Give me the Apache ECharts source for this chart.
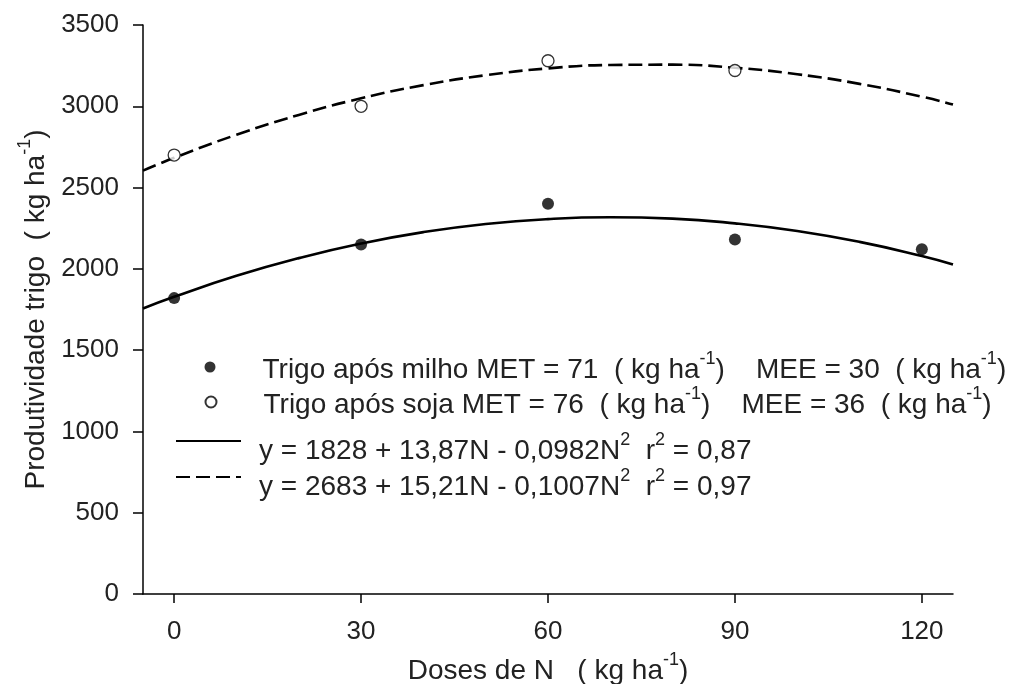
<!DOCTYPE html>
<html>
<head>
<meta charset="utf-8">
<script src="https://cdn.jsdelivr.net/npm/echarts@6/dist/echarts.min.js"></script>
<style>
html,body{margin:0;padding:0;background:#fff;}
#chart{width:1010px;height:684px;}
</style>
</head>
<body>
<div id="chart"></div>
<script>
// ---- data ----
const doses = [0, 30, 60, 90, 120];
const milhoObs = [1820, 2150, 2400, 2180, 2120];
const sojaDoses = [0, 30, 60, 90];
const sojaObs = [2700, 3000, 3280, 3220];
const curveDoses = [-5, 0, 10, 20, 30, 40, 50, 60, 70, 80, 90, 100, 110, 120, 125];
const curveMilho = [1756, 1828, 1957, 2066, 2156, 2226, 2276, 2306, 2317, 2309, 2280, 2233, 2166, 2079, 2027];
const curveSoja = [2604, 2683, 2825, 2947, 3049, 3130, 3191, 3233, 3254, 3256, 3237, 3197, 3138, 3059, 3011];
const xTickValues = [0, 30, 60, 90, 120];
const yTickValues = [0, 500, 1000, 1500, 2000, 2500, 3000, 3500];

const legendLabels = {
  milho: ['Trigo após milho MET = 71  ( kg ha', '-1', ')    MEE = 30  ( kg ha', '-1', ')'],
  soja: ['Trigo após soja MET = 76  ( kg ha', '-1', ')    MEE = 36  ( kg ha', '-1', ')'],
  eqMilho: ['y = 1828 + 13,87N - 0,0982N', '2', '  r', '2', ' = 0,87'],
  eqSoja: ['y = 2683 + 15,21N - 0,1007N', '2', '  r', '2', ' = 0,97']
};

const FONT = '"Liberation Sans", Arial, sans-serif';
const TXT = '#222';
const FS = 28;

function pairs(xs, ys) { return xs.map((x, i) => [x, ys[i]]); }

function richLabel(parts, firstStyle) {
  return parts.map((p, i) => '{' + (i === 0 ? firstStyle : (i % 2 === 1 ? 's' : 't')) + '|' + p + '}').join('');
}
const richStyles = {
  t: { fontSize: FS, fontFamily: FONT, color: TXT, lineHeight: 34, verticalAlign: 'bottom' },
  a: { fontSize: FS, fontFamily: FONT, color: TXT, lineHeight: 34, verticalAlign: 'bottom', padding: [0, 0, 0, 21] },
  b: { fontSize: FS, fontFamily: FONT, color: TXT, lineHeight: 34, verticalAlign: 'bottom', padding: [0, 0, 0, 13] },
  s: { fontSize: 18, fontFamily: FONT, color: TXT, lineHeight: 34, verticalAlign: 'top' }
};

function legendFor(name, left, top, width, isLine) {
  const lg = {
    data: [name],
    left: left, top: top,
    padding: 0,
    orient: 'vertical',
    itemWidth: width, itemHeight: 11,
    selectedMode: false,
    formatter: n => richLabel(legendLabels[n], isLine ? 'b' : 'a'),
    textStyle: { rich: richStyles }
  };
  if (isLine) {
    lg.itemStyle = { color: 'rgba(0,0,0,0)', borderWidth: 0 };
    lg.textStyle.padding = [14, 0, 0, 0];
  }
  return lg;
}

const chart = echarts.init(document.getElementById('chart'), null, { renderer: 'canvas' });
chart.setOption({
  animation: false,
  backgroundColor: '#fff',
  grid: { left: 143, right: 57, top: 25, bottom: 90, outerBoundsMode: 'none' },
  xAxis: {
    type: 'value', min: -5, max: 125,
    name: '{t|Doses de N   ( kg ha}{s|-1}{t|)}',
    nameLocation: 'middle', nameGap: 57,
    nameTextStyle: { rich: richStyles },
    axisLine: { onZero: false, lineStyle: { color: '#000', width: 1.5 } },
    axisTick: { customValues: xTickValues, length: 9, lineStyle: { color: '#000', width: 1.5 } },
    axisLabel: { customValues: xTickValues, margin: 25, fontSize: 26, fontFamily: FONT, color: TXT },
    splitLine: { show: false }
  },
  yAxis: {
    type: 'value', min: 0, max: 3500, interval: 500,
    name: '{t|Produtividade trigo  ( kg ha}{s|-1}{t|)}',
    nameLocation: 'middle', nameGap: 86,
    nameTextStyle: { rich: richStyles },
    axisLine: { show: true, onZero: false, lineStyle: { color: '#000', width: 1.5 } },
    axisTick: { show: true, length: 10, lineStyle: { color: '#000', width: 1.5 } },
    axisLabel: { margin: 24, fontSize: 26, fontFamily: FONT, color: TXT, formatter: v => String(v) },
    splitLine: { show: false }
  },
  legend: [
    legendFor('milho', 204.5, 350, 53, false),
    legendFor('soja', 204.5, 385, 53, false),
    legendFor('eqMilho', 175, 431, 65, true),
    legendFor('eqSoja', 175, 467, 65, true)
  ],
  series: [
    {
      name: 'eqMilho', type: 'line', data: pairs(curveDoses, curveMilho),
      smooth: true, symbol: 'none', z: 2,
      lineStyle: { color: '#000', width: 2.6, type: 'solid' },
      itemStyle: { color: '#000' }
    },
    {
      name: 'eqSoja', type: 'line', data: pairs(curveDoses, curveSoja),
      smooth: true, symbol: 'none', z: 2,
      lineStyle: { color: '#000', width: 2.6, type: [14, 6] },
      itemStyle: { color: '#000' }
    },
    {
      name: 'milho', type: 'scatter', data: pairs(doses, milhoObs),
      symbol: 'circle', symbolSize: 12, z: 3,
      itemStyle: { color: '#000' }
    },
    {
      name: 'soja', type: 'scatter', data: pairs(sojaDoses, sojaObs),
      symbol: 'circle', symbolSize: 12, z: 3,
      itemStyle: { color: '#fff', borderColor: '#000', borderWidth: 1.3 }
    }
  ]
});
</script>
</body>
</html>
